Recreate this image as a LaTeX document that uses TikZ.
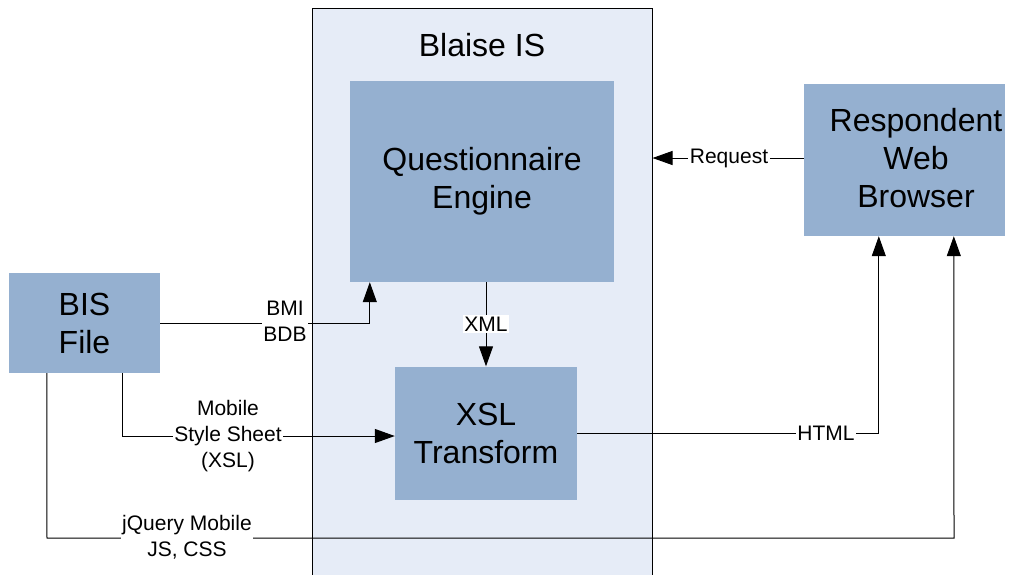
\documentclass[tikz,border=0pt]{standalone}
\usepackage{fontspec}
\setmainfont{Liberation Sans}
\usetikzlibrary{arrows.meta}
\definecolor{boxblue}{RGB}{149,176,208}
\definecolor{contblue}{RGB}{230,236,247}
\begin{document}
\begin{tikzpicture}[x=1pt,y=-1pt,
  bigtext/.style={font=\fontsize{32}{38}\selectfont, align=center},
  box/.style={fill=boxblue, draw=none, bigtext, inner sep=0pt},
  lbl/.style={fill=white, font=\fontsize{21}{26}\selectfont, align=center, inner sep=1.5pt},
  conn/.style={line width=1pt, -{Triangle[length=20pt,width=14pt]}}
]
\useasboundingbox (0,0) rectangle (1019,574);
% container
\node[draw=black, fill=contblue, line width=1pt, minimum width=340pt, minimum height=582pt, inner sep=0pt] (blaise) at (482,299) {};
\node[bigtext] (title) at (482,45) {Blaise IS};
% boxes
\node[box, minimum width=151pt, minimum height=100pt] (bis) at (84.5,323) {BIS\\File};
\node[box, minimum width=264pt, minimum height=201pt] (qe) at (482,181.5) {Questionnaire\\Engine};
\node[box, minimum width=182pt, minimum height=133pt] (xsl) at (486,433) {XSL\\Transform};
\node[box, minimum width=201pt, minimum height=152pt] (rwb) at (904.5,160) {};
\node[bigtext, inner sep=0pt] (rwbtext) at (916,158) {Respondent\\Web\\Browser};
% connectors
\draw[conn] (bis.east) -| ([xshift=20pt]qe.south west);
\node[lbl] (lbmi) at (285,321) {BMI\\BDB};
\draw[conn] ([xshift=114pt]bis.south west) |- ([yshift=-3pt]xsl.west);
\node[lbl] (lmob) at (228,436) {Mobile\\Style Sheet\\(XSL)};
\coordinate (jq1) at (47,538);
\coordinate (jq2) at (954,538);
\draw[conn] ([xshift=38pt]bis.south west) -- (jq1) -- (jq2) -- ([xshift=150pt]rwb.south west);
\node[lbl] (ljq) at (187,537) {jQuery Mobile\\JS, CSS};
\draw[conn] (xsl.east) -| ([xshift=75pt]rwb.south west);
\node[lbl] (lhtml) at (826,433) {HTML};
\draw[conn] (xsl.north |- qe.south) -- (xsl.north);
\node[lbl] (lxml) at (486,324) {XML};
\draw[conn] ([yshift=2pt]rwb.west) -- ([yshift=2pt]rwb.west -| blaise.east);
\node[lbl] (lreq) at (729,158) {Request};
\end{tikzpicture}
\end{document}
